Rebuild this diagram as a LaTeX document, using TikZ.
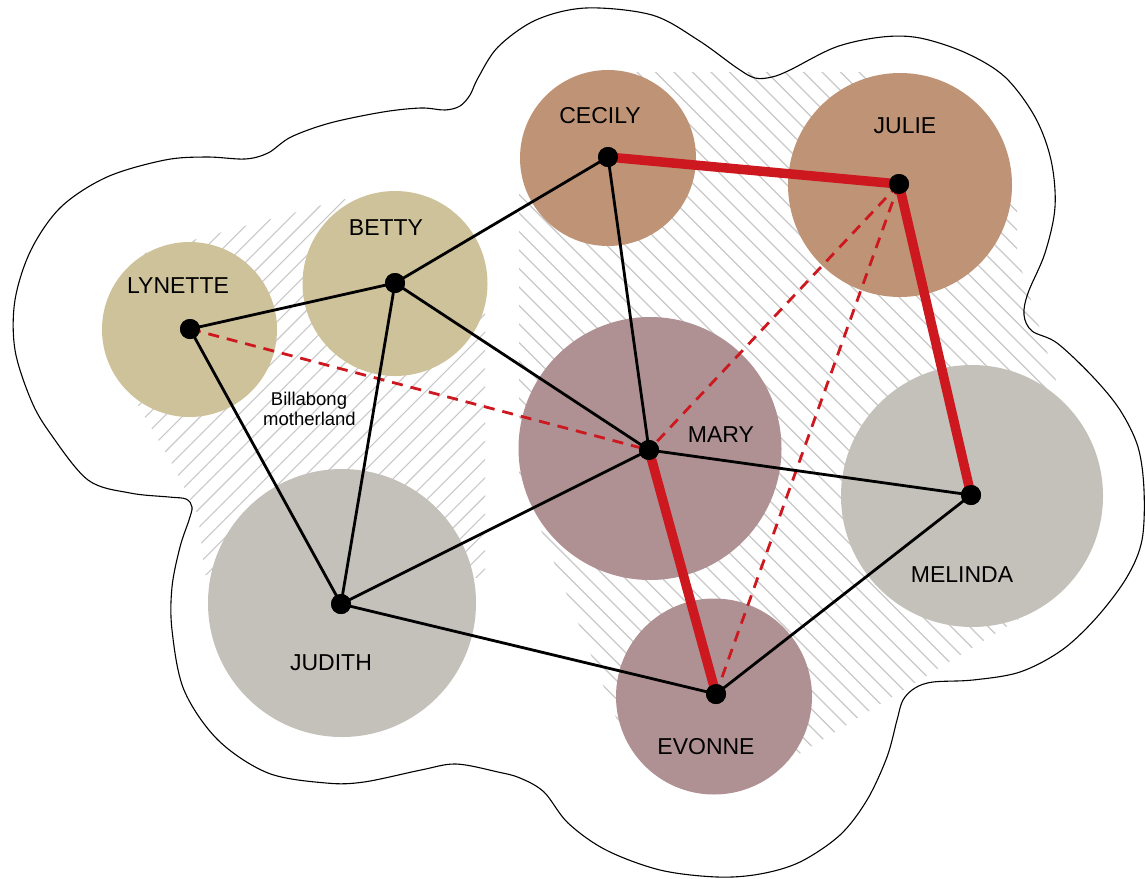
\documentclass[tikz,border=0pt]{standalone}
\usepackage{fontspec}
\setmainfont{Liberation Sans}
\definecolor{cTan}{RGB}{206,194,154}
\definecolor{cBrown}{RGB}{191,147,117}
\definecolor{cMauve}{RGB}{175,145,148}
\definecolor{cGrey}{RGB}{196,192,186}
\definecolor{cRed}{RGB}{204,24,30}
\definecolor{cHatch}{RGB}{200,200,200}
\begin{document}
\begin{tikzpicture}[x=1pt,y=-1pt,
  blob/.style={circle, inner sep=0pt, draw=none},
  hub/.style={circle, fill=black, inner sep=0pt, minimum size=20pt},
  tie/.style={line width=2.8pt, black},
  bond/.style={line width=9.5pt, cRed},
  weak/.style={line width=2.8pt, cRed, dash pattern=on 11pt off 8pt},
  hatch/.style={line width=1.1pt, cHatch},
  lbl/.style={font=\fontsize{23}{27}\selectfont, anchor=base, inner sep=0pt},
  notetext/.style={font=\fontsize{18.5}{22}\selectfont, anchor=base, inner sep=0pt},
  rimline/.style={line width=1.1pt, black}]
\useasboundingbox (0,0) rectangle (1145,878);

% hatched areas
\begin{scope}
  \clip (145,253) -- (345,199) -- (485,300) -- (485,578) -- (205,575) -- (198,515) -- (170,460) -- (132,395) -- (115,330) -- cycle;
  \foreach \k in {-4,...,36} \draw[hatch] ({435+18.2*\k-800},800) -- ({435+18.2*\k},0);
\end{scope}
\begin{scope}
  \clip (519,185) -- (637,72) -- (875,72) -- (1017,195) -- (1017,255) -- (1090,490) -- (1045,603) -- (760,778) -- (621,730) -- (519,475) -- cycle;
  \foreach \k in {-16,...,38} \draw[hatch] (0,{-565+18.5*\k}) -- (1200,{635+18.5*\k});
\end{scope}

% outer contour
\draw[rimline] plot[smooth cycle, tension=0.55] coordinates {
 (586,8) (652,15) (698,40) (737,68) (755,78) (772,77) (790,70) (836,47) (882,37) (920,38)
 (966,53) (1005,77) (1035,117) (1051,160) (1055,207) (1045,253) (1028,293) (1024,315)
 (1032,331) (1057,343) (1093,377) (1120,410) (1138,447) (1144,490) (1142,540) (1127,577)
 (1097,617) (1062,650) (1020,672) (973,680) (933,682) (915,688) (903,700) (897,720)
 (887,757) (867,800) (840,835) (800,862) (760,874) (717,877) (660,870) (606,850)
 (568,823) (544,792) (520,778) (498,772) (456,764) (421,770) (364,782) (326,783)
 (268,773) (218,740) (184,690) (172,630) (172,587) (180,547) (189,520) (192,507)
 (186,499) (169,497) (130,493) (88,480) (50,433) (31,400) (15,350) (15,300) (31,250)
 (61,207) (107,177) (165,160) (207,157) (245,159) (268,153) (291,137) (330,123)
 (383,112) (421,108) (445,110) (460,106) (470,95) (478,78) (498,47) (536,20)};

% circles
\node[blob, fill=cTan, minimum size=175pt] (cLy) at (189.5,329.5) {};
\node[blob, fill=cTan, minimum size=185pt] (cBe) at (395,283.5) {};
\node[blob, fill=cBrown, minimum size=176pt] (cCe) at (608,158) {};
\node[blob, fill=cBrown, minimum size=224pt] (cJl) at (900,185) {};
\node[blob, fill=cMauve, minimum size=263pt] (cMa) at (650,448.5) {};
\node[blob, fill=cGrey, minimum size=262pt] (cMe) at (972,496) {};
\node[blob, fill=cMauve, minimum size=196pt] (cEv) at (714,696.5) {};
\node[blob, fill=cGrey, minimum size=268pt] (cJu) at (342,603) {};

% labels
\node[lbl] (tLy) at (178,293) {LYNETTE};
\node[lbl] (tBe) at (386,235) {BETTY};
\node[lbl] (tCe) at (600,123) {CECILY};
\node[lbl] (tJl) at (905,133) {JULIE};
\node[lbl] (tMa) at (721,442) {MARY};
\node[lbl] (tMe) at (962,582) {MELINDA};
\node[lbl] (tEv) at (706,754) {EVONNE};
\node[lbl] (tJu) at (331,670) {JUDITH};
\node[notetext] (tB1) at (309,405) {Billabong};
\node[notetext] (tB2) at (309.5,425.5) {motherland};

% hubs
\node[hub] (ly) at (190,329) {};
\node[hub] (be) at (395,283) {};
\node[hub] (ce) at (608,157) {};
\node[hub] (jl) at (899,184) {};
\node[hub] (ma) at (649,450) {};
\node[hub] (me) at (971,495) {};
\node[hub] (ev) at (716,694) {};
\node[hub] (ju) at (341,604) {};

% connectors
\draw[weak] (ly.center) -- (ma.center);
\draw[weak] (jl.center) -- (ma.center);
\draw[weak] (jl.center) -- (ev.center);
\draw[tie] (ly.center) -- (be.center);
\draw[tie] (be.center) -- (ce.center);
\draw[tie] (be.center) -- (ma.center);
\draw[tie] (be.center) -- (ju.center);
\draw[tie] (ly.center) -- (ju.center);
\draw[tie] (ce.center) -- (ma.center);
\draw[tie] (ma.center) -- (ju.center);
\draw[tie] (ma.center) -- (me.center);
\draw[tie] (ju.center) -- (ev.center);
\draw[tie] (ev.center) -- (me.center);
\draw[bond] (ce.center) -- (jl.center);
\draw[bond] (jl.center) -- (me.center);
\draw[bond] (ma.center) -- (ev.center);
\foreach \h in {ly,be,ce,jl,ma,me,ev,ju} \fill (\h) circle (10pt);
\end{tikzpicture}
\end{document}
